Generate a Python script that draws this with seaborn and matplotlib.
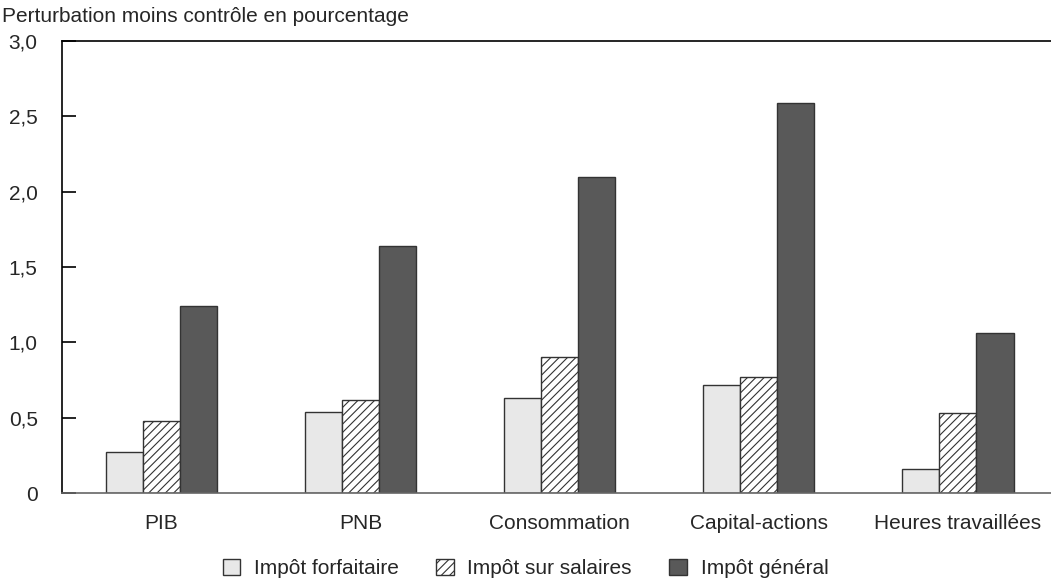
import matplotlib
matplotlib.use("Agg")
import matplotlib.pyplot as plt
import seaborn as sns
import pandas as pd
from matplotlib.patches import Patch

categories = ["PIB", "PNB", "Consommation", "Capital-actions", "Heures travaillées"]
series_names = ["Impôt forfaitaire", "Impôt sur salaires", "Impôt général"]
forfaitaire = [0.27, 0.54, 0.63, 0.72, 0.16]
salaires = [0.48, 0.62, 0.90, 0.77, 0.53]
general = [1.24, 1.64, 2.10, 2.59, 1.06]
yticks = [0, 0.5, 1.0, 1.5, 2.0, 2.5, 3.0]
ytick_labels = ["0", "0,5", "1,0", "1,5", "2,0", "2,5", "3,0"]

sns.set_theme(style="white")
plt.rcParams["font.family"] = ["Liberation Sans", "DejaVu Sans"]
plt.rcParams["hatch.linewidth"] = 0.8

rows = []
for name, vals in zip(series_names, [forfaitaire, salaires, general]):
    for c, v in zip(categories, vals):
        rows.append({"cat": c, "serie": name, "val": v})
df = pd.DataFrame(rows)

colors = ["#e8e8e8", "#ffffff", "#595959"]
hatches = ["", "////", ""]
FS = 15

fig = plt.figure(figsize=(10.51, 5.87), dpi=100)
ax = fig.add_axes([0.059, 0.16, 0.947, 0.77])
sns.barplot(data=df, x="cat", y="val", hue="serie", order=categories,
            hue_order=series_names, palette=colors, width=0.56,
            edgecolor="#222222", linewidth=1.0, saturation=1, ax=ax, legend=False)

for i, cont in enumerate(ax.containers):
    for p in cont.patches:
        p.set_hatch(hatches[i])
        p.set_facecolor(colors[i])
        p.set_edgecolor("#333333")

ax.set_xlim(-0.5, 4.5)
ax.set_ylim(0, 3.0)
ax.set_yticks(yticks)
ax.set_yticklabels(ytick_labels, fontsize=FS)
ax.tick_params(axis="y", direction="in", length=10, width=1.2, color="black", left=True, pad=17.5)
ax.tick_params(axis="x", length=0, labelsize=FS, pad=15)
ax.set_xlabel("")
ax.set_ylabel("")

ax.spines["right"].set_visible(False)
ax.spines["left"].set_color("black")
ax.spines["left"].set_linewidth(1.2)
ax.spines["top"].set_color("black")
ax.spines["top"].set_linewidth(1.2)
ax.spines["bottom"].set_color("#666666")
ax.spines["bottom"].set_linewidth(1.2)

fig.text(0.002, 0.955, "Perturbation moins contrôle en pourcentage", fontsize=FS, ha="left", va="bottom")

handles = [Patch(facecolor=colors[i], edgecolor="#333333", hatch=hatches[i], label=series_names[i]) for i in range(3)]
fig.legend(handles=handles, loc="lower center", bbox_to_anchor=(0.5, -0.017), ncol=3, frameon=False,
           fontsize=FS, handlelength=0.85, handleheight=0.85, columnspacing=1.8, handletextpad=0.65)

fig.savefig("out.png", dpi=100)
